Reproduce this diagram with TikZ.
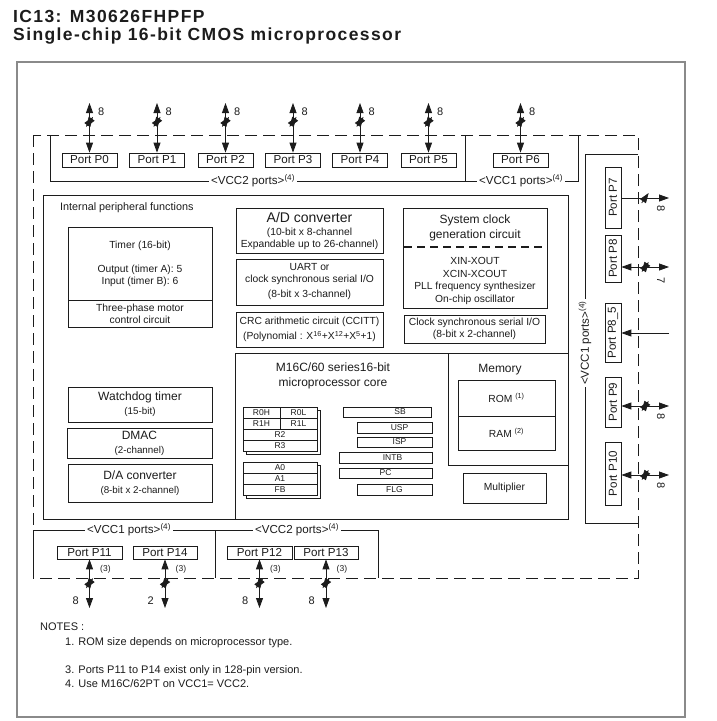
\documentclass[tikz,border=0pt]{standalone}
\usepackage{fontspec}
\setmainfont{Liberation Sans}
\newfontfamily\titlefont[LetterSpace=8]{Liberation Sans}
\usepackage{xcolor}
\usepackage{tikz}
\usetikzlibrary{arrows.meta,positioning,calc}
\definecolor{ChipInk}{HTML}{1C1C1C}
\definecolor{ChipFrame}{HTML}{8A8A8A}
\tikzset{
  mbox/.style={draw=ChipInk,line width=0.7pt,fill=white,align=center,
    inner sep=0pt,text=ChipInk,font=\fontsize{10.3}{12}\selectfont},
  mplain/.style={align=center,inner sep=0pt,text=ChipInk,
    font=\fontsize{10.3}{12}\selectfont},
  mport/.style={mbox,minimum width=55,minimum height=14,
    font=\fontsize{11.6}{12}\selectfont},
  mvport/.style={mport,rotate=90,minimum height=16},
  mreg/.style={mbox,line width=0.6pt,minimum height=11,
    font=\fontsize{8.5}{9}\selectfont},
  mshadow/.style={draw=ChipInk,line width=0.6pt,fill=white},
  marrow/.style={-{Triangle[length=10pt,width=7pt]},line width=0.8pt,ChipInk},
  mbiarrow/.style={{Triangle[length=10pt,width=7pt]}-{Triangle[length=10pt,width=7pt]},
    line width=0.8pt,ChipInk},
  mbracket/.style={draw=ChipInk,line width=0.7pt},
  mvcc/.style={fill=white,inner sep=2.5pt,text=ChipInk,
    font=\fontsize{11.6}{12}\selectfont},
  mwidth/.style={inner sep=1pt,text=ChipInk,font=\fontsize{11}{12}\selectfont},
  msmall/.style={inner sep=1pt,text=ChipInk,font=\fontsize{8.5}{9}\selectfont},
  mnote/.style={anchor=west,inner sep=0pt,text=ChipInk,
    font=\fontsize{11}{12}\selectfont},
  buswidth/.pic={\draw[line width=0.7pt,ChipInk] (-3.5,5) -- (3.5,-5);}
}

\begin{document}
\begin{tikzpicture}[x=1pt,y=-1pt]
  \path[use as bounding box] (0,0) rectangle (717,721);

  \node[anchor=base west,inner sep=0pt,text=ChipInk,
    font=\titlefont\bfseries\fontsize{17.5}{20}\selectfont] (title1) at (13,22) {IC13: M30626FHPFP};
  \node[anchor=base west,inner sep=0pt,text=ChipInk,
    font=\titlefont\bfseries\fontsize{17.5}{20}\selectfont] (title2) at (13,40.5) {Single-chip 16-bit CMOS microprocessor};

  % frame and chip boundary
  \draw[ChipFrame,line width=1.3pt] (17,62) rectangle (685,717);
  \draw[ChipInk,line width=0.7pt,dash pattern=on 12pt off 6pt] (33,135) rectangle (638,578);

  % supply groups
  \draw[mbracket] (50,135) -- (50,181) -- (465,181) -- (465,135);
  \draw[mbracket] (465,181) -- (578,181) -- (578,135);
  \draw[mbracket] (638,154) -- (585,154) -- (585,523) -- (638,523);
  \draw[mbracket] (33,578) -- (33,530) -- (215,530) -- (215,578);
  \draw[mbracket] (215,530) -- (378,530) -- (378,578);
  \node[mvcc] (vcc2top) at (253,181) {<VCC2 ports>\textsuperscript{(4)}};
  \node[mvcc] (vcc1top) at (521,181) {<VCC1 ports>\textsuperscript{(4)}};
  \node[mvcc,rotate=90] (vcc1right) at (585,343) {<VCC1 ports>\textsuperscript{(4)}};
  \node[mvcc] (vcc1bot) at (129,530) {<VCC1 ports>\textsuperscript{(4)}};
  \node[mvcc] (vcc2bot) at (297,530) {<VCC2 ports>\textsuperscript{(4)}};

  % top ports
  \node[mport] (p0) at (89.5,160) {Port P0};
  \node[mport] (p1) at (157,160) {Port P1};
  \node[mport] (p2) at (225.5,160) {Port P2};
  \node[mport] (p3) at (293,160) {Port P3};
  \node[mport] (p4) at (360,160) {Port P4};
  \node[mport] (p5) at (428.5,160) {Port P5};
  \node[mport] (p6) at (520.5,160) {Port P6};
  \coordinate (p0top) at (89.5,103);
  \coordinate (p1top) at (157,103);
  \coordinate (p2top) at (225.5,103);
  \coordinate (p3top) at (293,103);
  \coordinate (p4top) at (360,103);
  \coordinate (p5top) at (428.5,103);
  \coordinate (p6top) at (520.5,103);
  \draw[mbiarrow] (p0.north) -- (p0top) pic[pos=0.62]{buswidth};
  \draw[mbiarrow] (p1.north) -- (p1top) pic[pos=0.62]{buswidth};
  \draw[mbiarrow] (p2.north) -- (p2top) pic[pos=0.62]{buswidth};
  \draw[mbiarrow] (p3.north) -- (p3top) pic[pos=0.62]{buswidth};
  \draw[mbiarrow] (p4.north) -- (p4top) pic[pos=0.62]{buswidth};
  \draw[mbiarrow] (p5.north) -- (p5top) pic[pos=0.62]{buswidth};
  \draw[mbiarrow] (p6.north) -- (p6top) pic[pos=0.62]{buswidth};
  \node[mwidth,anchor=west] (p0w) at (97,112) {8};
  \node[mwidth,anchor=west] (p1w) at (164.5,112) {8};
  \node[mwidth,anchor=west] (p2w) at (233,112) {8};
  \node[mwidth,anchor=west] (p3w) at (300.5,112) {8};
  \node[mwidth,anchor=west] (p4w) at (367.5,112) {8};
  \node[mwidth,anchor=west] (p5w) at (436,112) {8};
  \node[mwidth,anchor=west] (p6w) at (528,112) {8};

  % right ports
  \node[mvport,minimum width=61] (p7) at (613,197.5) {Port P7};
  \node[mvport,minimum width=47] (p8) at (613,258.5) {Port P8};
  \node[mvport,minimum width=59] (p85) at (613,332.5) {Port P8\_5};
  \node[mvport,minimum width=50] (p9) at (613,402) {Port P9};
  \node[mvport,minimum width=63] (p10) at (613,473.5) {Port P10};
  \coordinate (p7out) at (669,198);
  \coordinate (p8out) at (669,267);
  \coordinate (p85in) at (669,333);
  \coordinate (p9out) at (669,406);
  \coordinate (p10out) at (669,475);
  \draw[marrow] (p7out -| p7.south) -- (p7out) pic[pos=0.5]{buswidth};
  \draw[mbiarrow] (p8out -| p8.south) -- (p8out) pic[pos=0.5]{buswidth};
  \draw[marrow] (p85in) -- (p85in -| p85.south);
  \draw[mbiarrow] (p9out -| p9.south) -- (p9out) pic[pos=0.5]{buswidth};
  \draw[mbiarrow] (p10out -| p10.south) -- (p10out) pic[pos=0.5]{buswidth};
  \node[mwidth,rotate=-90] (p7w) at (661,209) {8};
  \node[mwidth,rotate=-90] (p8w) at (661,281) {7};
  \node[mwidth,rotate=-90] (p9w) at (661,417) {8};
  \node[mwidth,rotate=-90] (p10w) at (661,486) {8};

  % bottom ports
  \node[mport,minimum width=65,minimum height=13] (p11) at (89.5,552.5) {Port P11};
  \node[mport,minimum width=64,minimum height=13] (p14) at (165,552.5) {Port P14};
  \node[mport,minimum width=65,minimum height=13] (p12) at (259.5,552.5) {Port P12};
  \node[mport,minimum width=64,minimum height=13] (p13) at (326,552.5) {Port P13};
  \coordinate (p11bot) at (89.5,608);
  \coordinate (p14bot) at (165,608);
  \coordinate (p12bot) at (259.5,608);
  \coordinate (p13bot) at (326,608);
  \draw[mbiarrow] (p11.south) -- (p11bot) pic[pos=0.49]{buswidth};
  \draw[mbiarrow] (p14.south) -- (p14bot) pic[pos=0.49]{buswidth};
  \draw[mbiarrow] (p12.south) -- (p12bot) pic[pos=0.49]{buswidth};
  \draw[mbiarrow] (p13.south) -- (p13bot) pic[pos=0.49]{buswidth};
  \node[msmall,anchor=west] (p11n) at (99,569) {(3)};
  \node[msmall,anchor=west] (p14n) at (174.5,569) {(3)};
  \node[msmall,anchor=west] (p12n) at (269,569) {(3)};
  \node[msmall,anchor=west] (p13n) at (335.5,569) {(3)};
  \node[mwidth,anchor=east] (p11w) at (80,601) {8};
  \node[mwidth,anchor=east] (p14w) at (155,601) {2};
  \node[mwidth,anchor=east] (p12w) at (249.5,601) {8};
  \node[mwidth,anchor=east] (p13w) at (316,601) {8};

  % internal peripheral functions
  \draw[mbracket] (43,195) rectangle (568,519);
  \node[mplain,anchor=west,font=\fontsize{10.8}{12}\selectfont] (periph) at (60,208) {Internal peripheral functions};

  \node[mbox,minimum width=144,minimum height=73] (timer) at (140,263.5)
    {Timer (16-bit)\\[12pt]Output (timer A): 5\\Input (timer B): 6};
  \node[mbox,minimum width=144,minimum height=27] (motor) at (140,313.5)
    {Three-phase motor\\control circuit};

  \node[mbox,minimum width=147,minimum height=45] (adc) at (309.5,230.5)
    {{\fontsize{14}{15}\selectfont A/D converter}\\[1pt](10-bit x 8-channel\\Expandable up to 26-channel)};
  \node[mbox,minimum width=147,minimum height=46] (uart) at (309.5,282)
    {UART or\\clock synchronous serial I/O\\[3pt](8-bit x 3-channel)};
  \node[mbox,minimum width=147,minimum height=35] (crc) at (309.5,329.5)
    {CRC arithmetic circuit (CCITT)\\[3pt](Polynomial : X\textsuperscript{16}+X\textsuperscript{12}+X\textsuperscript{5}+1)};

  \node[mbox,minimum width=144,minimum height=100] (sysclk) at (475,258) {};
  \node[mplain,font=\fontsize{12}{15}\selectfont] (clkname) at (475,227.5)
    {System clock\\generation circuit};
  \draw[ChipInk,line width=1.6pt,dash pattern=on 8pt off 5pt] (404,247) -- (546,247);
  \node[mplain,font=\fontsize{10.3}{12.7}\selectfont] (clksrc) at (475,281)
    {XIN-XOUT\\XCIN-XCOUT\\PLL frequency synthesizer\\On-chip oscillator};
  \node[mbox,minimum width=141,minimum height=28] (csio) at (474.5,329)
    {Clock synchronous serial I/O\\(8-bit x 2-channel)};

  \node[mbox,minimum width=144,minimum height=35] (wdt) at (140,404.5)
    {{\fontsize{12}{13}\selectfont Watchdog timer}\\[2pt]{\fontsize{9.8}{10}\selectfont (15-bit)}};
  \node[mbox,minimum width=145,minimum height=30] (dmac) at (139.5,443)
    {{\fontsize{12}{13}\selectfont DMAC}\\[2pt]{\fontsize{9.8}{10}\selectfont (2-channel)}};
  \node[mbox,minimum width=144,minimum height=38] (dac) at (140,483)
    {{\fontsize{12}{13}\selectfont D/A converter}\\[2pt]{\fontsize{9.8}{10}\selectfont (8-bit x 2-channel)}};

  % CPU core and memory
  \draw[mbracket] (235,353) rectangle (568,519);
  \draw[mbracket] (448,353) -- (448,465) -- (568,465);
  \node[mplain,font=\fontsize{12}{15}\selectfont] (core) at (333,375.5)
    {M16C/60 series16-bit\\microprocessor core};
  \node[mplain,font=\fontsize{12}{14}\selectfont] (memory) at (500,370) {Memory};
  \node[mbox,minimum width=97,minimum height=36] (rom) at (506.5,398) {ROM \textsuperscript{(1)}};
  \node[mbox,minimum width=97,minimum height=34] (ram) at (506.5,433) {RAM \textsuperscript{(2)}};
  \node[mbox,minimum width=83,minimum height=30] (mult) at (504.5,488) {Multiplier};

  \draw[mshadow] (246.5,410.5) rectangle (320.5,454.5);
  \node[mreg,minimum width=37] (r0h) at (261.5,412.5) {R0H};
  \node[mreg,minimum width=37] (r0l) at (298.5,412.5) {R0L};
  \node[mreg,minimum width=37] (r1h) at (261.5,423.5) {R1H};
  \node[mreg,minimum width=37] (r1l) at (298.5,423.5) {R1L};
  \node[mreg,minimum width=74] (r2) at (280,434.5) {R2};
  \node[mreg,minimum width=74] (r3) at (280,445.5) {R3};
  \draw[mshadow] (246.5,465.5) rectangle (320.5,498.5);
  \node[mreg,minimum width=74] (a0) at (280,467.5) {A0};
  \node[mreg,minimum width=74] (a1) at (280,478.5) {A1};
  \node[mreg,minimum width=74] (fb) at (280,489.5) {FB};

  \node[mreg,minimum width=88,minimum height=10] (sb) at (387,412) {\hspace*{26pt}SB};
  \node[mreg,minimum width=75] (usp) at (394.5,427.5) {\hspace*{10pt}USP};
  \node[mreg,minimum width=75,minimum height=10] (isp) at (394.5,442) {\hspace*{10pt}ISP};
  \node[mreg,minimum width=93] (intb) at (385.5,457.5) {\hspace*{14pt}INTB};
  \node[mreg,minimum width=93,minimum height=10] (pc) at (385.5,473) {PC};
  \node[mreg,minimum width=75] (flg) at (394.5,489.5) {FLG};

  % notes
  \node[mnote] (notes) at (40,627) {NOTES :};
  \node[mnote] (note1) at (65,643) {1. ROM size depends on microprocessor type.};
  \node[mnote] (note3) at (65,671) {3. Ports P11 to P14 exist only in 128-pin version.};
  \node[mnote] (note4) at (65,684) {4. Use M16C/62PT on VCC1= VCC2.};
\end{tikzpicture}
\end{document}
